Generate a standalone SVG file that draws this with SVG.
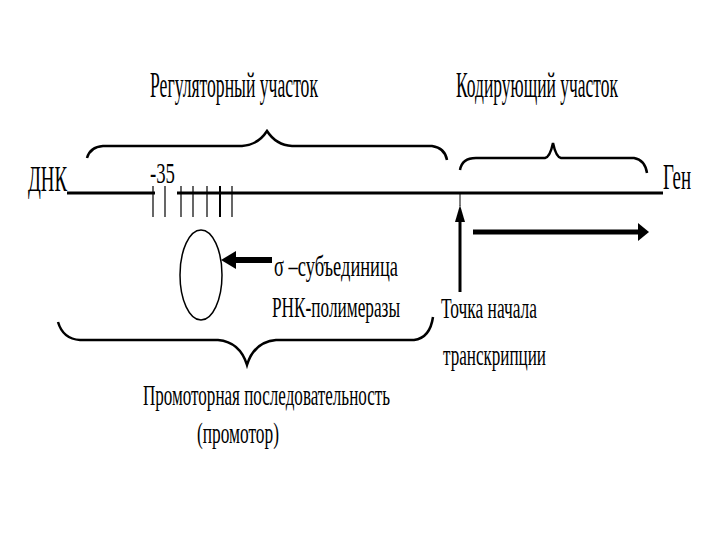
<svg xmlns="http://www.w3.org/2000/svg" width="720" height="540" viewBox="0 0 720 540">
<style>
text{font-family:"Liberation Serif","DejaVu Serif","Times New Roman",serif;fill:#000}
.t{font-size:35px}
.s{font-size:30px}
.brace{fill:none;stroke:#000;stroke-width:2.5}
.tick{stroke:#000;stroke-width:1.2}
</style>
<rect width="720" height="540" fill="#fff"/>
<g id="labels">
<text class="t" x="150" y="97" textLength="168" lengthAdjust="spacingAndGlyphs">Регуляторный участок</text>
<text class="t" x="456" y="97" textLength="162" lengthAdjust="spacingAndGlyphs">Кодирующий участок</text>
<text class="t" x="28" y="191" textLength="39" lengthAdjust="spacingAndGlyphs">ДНК</text>
<text class="s" x="150" y="183" textLength="25" lengthAdjust="spacingAndGlyphs">-35</text>
<text class="t" x="663" y="189" textLength="28" lengthAdjust="spacingAndGlyphs">Ген</text>
</g>
<g id="dna">
<line x1="67" y1="193" x2="155" y2="193" stroke="#000" stroke-width="3"/>
<line x1="177" y1="193" x2="663" y2="193" stroke="#000" stroke-width="3"/>
<line class="tick" x1="153" y1="186" x2="153" y2="217"/>
<line class="tick" x1="165" y1="186" x2="165" y2="217"/>
<line class="tick" x1="181" y1="186" x2="181" y2="217"/>
<line class="tick" x1="193" y1="186" x2="193" y2="217"/>
<line class="tick" x1="207" y1="186" x2="207" y2="217"/>
<line x1="220" y1="186" x2="220" y2="217" stroke="#000" stroke-width="2"/>
<line class="tick" x1="232" y1="186" x2="232" y2="217"/>
</g>
<g id="brace-regulatory">
<path class="brace" d="M87,158 Q90,147 103,146 L242,146 Q258,145 267,131 Q276,145 292,146 L432,146 Q445,148 447,160"/>
</g>
<g id="brace-coding">
<path class="brace" d="M460,170 Q462,158 476,158 L545,158 Q550,157 553,143 Q556,157 561,158 L634,158 Q645,160 647,173"/>
</g>
<g id="brace-promoter">
<path class="brace" d="M58,322 Q63,339 80,340 L218,340 Q240,342 247,365 Q254,342 276,340 L414,340 Q430,338 433,317"/>
</g>
<g id="sigma">
<ellipse cx="201" cy="275" rx="21" ry="45" fill="none" stroke="#000" stroke-width="1.5"/>
<text class="s" x="274" y="276" textLength="124" lengthAdjust="spacingAndGlyphs">σ –субъединица</text>
<text class="s" x="272" y="317" textLength="128" lengthAdjust="spacingAndGlyphs">РНК-полимеразы</text>
</g>
<g id="start">
<text class="s" x="441" y="318" textLength="96" lengthAdjust="spacingAndGlyphs">Точка начала</text>
<text class="s" x="443" y="365" textLength="103" lengthAdjust="spacingAndGlyphs">транскрипции</text>
</g>
<g id="promoter-label">
<text class="s" x="143" y="405" textLength="247" lengthAdjust="spacingAndGlyphs">Промоторная последовательность</text>
<text class="s" x="197" y="443" textLength="82" lengthAdjust="spacingAndGlyphs">(промотор)</text>
</g>
<g id="connectors">
<line x1="460" y1="193" x2="460" y2="206" stroke="#000" stroke-width="1"/>
<path d="M460,205 L465,222 L455,222 Z" fill="#000"/>
<line x1="460" y1="218" x2="460" y2="292" stroke="#000" stroke-width="3"/>
<line x1="473" y1="232" x2="640" y2="232" stroke="#000" stroke-width="5"/>
<path d="M649,232 L638,223 L638,241 Z" fill="#000"/>
<line x1="272" y1="260" x2="232" y2="260" stroke="#000" stroke-width="6"/>
<path d="M221,260 L236,251 L236,269 Z" fill="#000"/>
</g>
</svg>
